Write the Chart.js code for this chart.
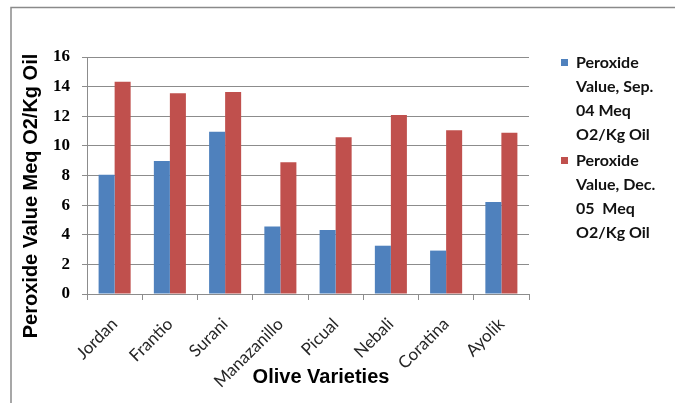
<!DOCTYPE html>
<html>
<head>
<meta charset="utf-8">
<script src="https://cdn.jsdelivr.net/npm/chart.js@4/dist/chart.umd.min.js"></script>
<style>
  html, body { margin: 0; padding: 0; background: #ffffff; }
  #wrap { position: relative; width: 675px; height: 403px; }
</style>
</head>
<body>
<div id="wrap"><canvas id="c" width="675" height="403"></canvas></div>
<script>
// Olive varieties and peroxide values (Meq O2/Kg oil) at two sampling dates
const varieties = ['Jordan', 'Frantio', 'Surani', 'Manazanillo', 'Picual', 'Nebali', 'Coratina', 'Ayolik'];
const sep04 = [8.05, 8.98, 10.96, 4.55, 4.32, 3.26, 2.93, 6.21];
const dec05 = [14.33, 13.55, 13.64, 8.89, 10.58, 12.09, 11.05, 10.89];
const seriesLabels = ['Peroxide Value, Sep. 04 Meq O2/Kg Oil', 'Peroxide Value, Dec. 05  Meq O2/Kg Oil'];
const yTitle = 'Peroxide Value Meq O2/Kg Oil';
const xTitle = 'Olive Varieties';

const BLUE = '#4F81BD';
const RED = '#C0504D';
const GRID = '#8c8c8c';

// Frame, axis titles and the wrapped legend on the right
const decorations = {
  id: 'decorations',
  beforeDraw(chart) {
    const ctx = chart.ctx;
    ctx.save();
    ctx.fillStyle = '#ffffff';
    ctx.fillRect(0, 0, chart.width, chart.height);
    ctx.strokeStyle = '#8a8a8a';
    ctx.lineWidth = 1.5;
    ctx.beginPath();
    ctx.moveTo(11, chart.height);
    ctx.lineTo(11, 7.5);
    ctx.lineTo(chart.width, 7.5);
    ctx.stroke();
    ctx.restore();
  },
  afterDraw(chart) {
    const ctx = chart.ctx;
    ctx.save();
    ctx.fillStyle = '#000000';
    ctx.font = 'bold 20px "Liberation Sans", Arial, sans-serif';
    ctx.textAlign = 'center';
    ctx.textBaseline = 'middle';
    // y axis title
    ctx.save();
    ctx.translate(31, 196);
    ctx.rotate(-Math.PI / 2);
    ctx.fillText(yTitle, 0, 0);
    ctx.restore();
    // x axis title
    ctx.fillText(xTitle, 321, 377);

    // legend, each label wrapped to a narrow column
    ctx.font = 'bold 16px Lato, "Open Sans", sans-serif';
    ctx.textAlign = 'left';
    const maxW = 88;
    const lineH = 24;
    let y = 63;
    chart.data.datasets.forEach((ds) => {
      const words = ds.label.split(' ');
      const lines = [];
      let cur = null;
      words.forEach((w) => {
        const test = cur === null ? w : cur + ' ' + w;
        if (cur !== null && w !== '' && ctx.measureText(test).width > maxW) {
          lines.push(cur.trim());
          cur = w;
        } else {
          cur = test;
        }
      });
      if (cur) lines.push(cur.trim());
      ctx.fillStyle = ds.backgroundColor;
      ctx.fillRect(561, y - 4, 7, 7);
      ctx.fillStyle = '#111111';
      lines.forEach((ln, i) => ctx.fillText(ln, 576, y + i * lineH));
      y += lines.length * lineH + 2;
    });
    ctx.restore();
  }
};

new Chart(document.getElementById('c'), {
  type: 'bar',
  data: {
    labels: varieties,
    datasets: [
      { label: seriesLabels[0], data: sep04, backgroundColor: BLUE },
      { label: seriesLabels[1], data: dec05, backgroundColor: RED }
    ]
  },
  options: {
    responsive: false,
    animation: false,
    devicePixelRatio: 1,
    layout: { padding: { left: 0, top: 57, right: 146, bottom: 0 } },
    plugins: {
      legend: { display: false },
      tooltip: { enabled: false },
      title: { display: false }
    },
    datasets: { bar: { barPercentage: 1.0, categoryPercentage: 0.58 } },
    scales: {
      x: {
        afterFit(scale) { scale.height = 109; },
        grid: {
          display: true,
          offset: true,
          drawOnChartArea: false,
          drawTicks: true,
          tickLength: 6,
          color: GRID
        },
        border: { display: true, color: GRID, width: 1 },
        ticks: {
          minRotation: 45,
          maxRotation: 45,
          padding: 14,
          color: '#262626',
          font: { family: 'Lato, "Open Sans", sans-serif', size: 17 }
        }
      },
      y: {
        min: 0,
        max: 16,
        afterFit(scale) { scale.width = 87; },
        grid: {
          color: GRID,
          lineWidth: 1,
          drawTicks: true,
          tickLength: 5
        },
        border: { display: true, color: GRID, width: 1 },
        ticks: {
          stepSize: 2,
          padding: 12,
          color: '#000000',
          font: { family: '"Liberation Serif", "DejaVu Serif", serif', size: 17, weight: 'bold' }
        }
      }
    }
  },
  plugins: [decorations]
});
</script>
</body>
</html>
